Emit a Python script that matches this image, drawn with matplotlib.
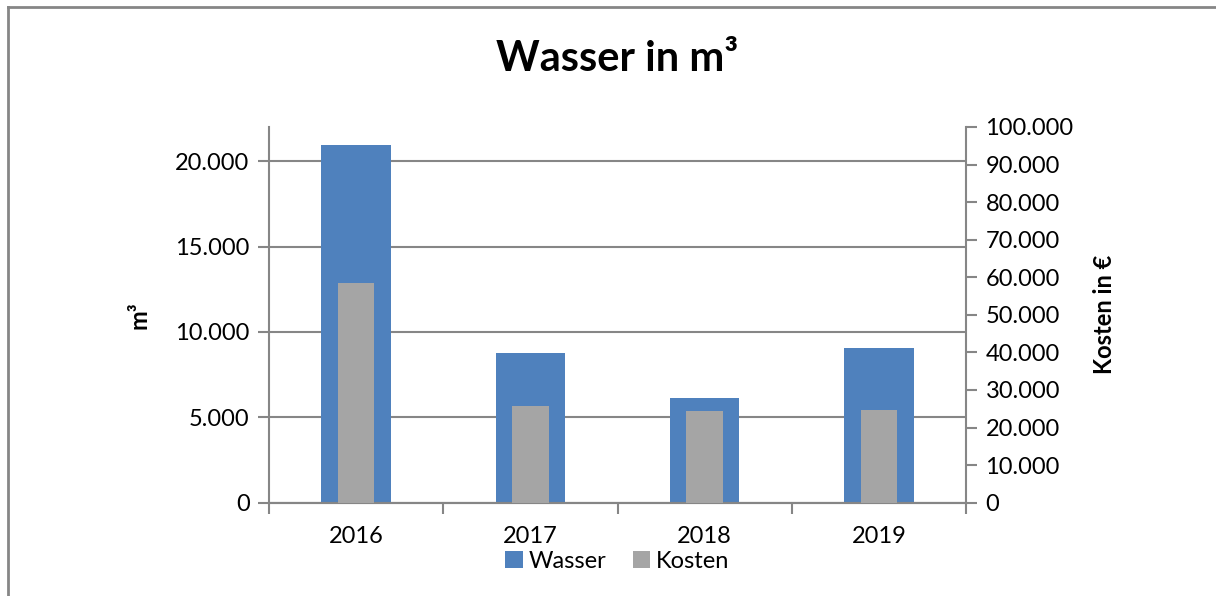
import matplotlib
matplotlib.use("Agg")
import matplotlib.pyplot as plt
from matplotlib.lines import Line2D
from matplotlib.ticker import FuncFormatter, FixedLocator
import numpy as np

plt.rcParams['font.family'] = ['Lato', 'DejaVu Sans']

years = ["2016", "2017", "2018", "2019"]
wasser = [20920, 8760, 6120, 9080]      # m³ (left axis)
kosten = [58600, 25700, 24300, 24800]   # € (right axis)

title = "Wasser in m³"
left_label = "m³"
right_label = "Kosten in €"

BLUE = "#4F81BD"
GRAY = "#A5A5A5"
AXC = "#868686"
FS = 17

def de_fmt(v, pos=None):
    return f"{int(round(v)):,}".replace(",", ".")

fig = plt.figure(figsize=(12.16, 5.96), dpi=100)
ax = fig.add_axes([269/1216, 1 - 502.7/596, (966-269)/1216, (502.7-127)/596])
ax2 = ax.twinx()

x = np.arange(len(years))
ax.bar(x, wasser, width=0.40, color=BLUE, zorder=2, label="Wasser")
ax2.bar(x, kosten, width=0.21, color=GRAY, zorder=3, label="Kosten")

ax.set_xlim(-0.5, 3.5)
ax.set_ylim(0, 22000)
ax2.set_ylim(0, 100000)

ax.set_yticks([0, 5000, 10000, 15000, 20000])
ax2.set_yticks(np.arange(0, 100001, 10000))
ax.yaxis.set_major_formatter(FuncFormatter(de_fmt))
ax2.yaxis.set_major_formatter(FuncFormatter(de_fmt))

ax.grid(axis='y', color=AXC, linewidth=1.5, zorder=0)
ax.set_axisbelow(True)

ax.xaxis.set_major_locator(FixedLocator([-0.5, 0.5, 1.5, 2.5, 3.5]))
ax.set_xticklabels([], minor=False)
ax.set_xticks(x, years, minor=True)
ax.tick_params(axis='x', which='minor', length=0, labelsize=FS, pad=17)
ax.tick_params(axis='x', which='major', length=8, color=AXC, width=1.5)
ax.tick_params(axis='y', length=8, color=AXC, width=1.5, labelsize=FS, pad=6)
ax2.tick_params(axis='y', length=8, color=AXC, width=1.5, labelsize=FS, pad=6)

for a in (ax, ax2):
    a.spines['top'].set_visible(False)
    for s in ('left', 'right', 'bottom'):
        a.spines[s].set_color(AXC)
        a.spines[s].set_linewidth(1.5)
ax2.spines['left'].set_visible(False)
ax.spines['right'].set_visible(False)

ax.set_ylabel(left_label, fontsize=FS, fontweight='bold', labelpad=18)
ax2.set_ylabel(right_label, fontsize=FS, fontweight='bold', labelpad=14)

fig.text(617/1216, 1 - 59/596, title, fontsize=30, fontweight='bold',
         ha='center', va='center')

h1, l1 = ax.get_legend_handles_labels()
h2, l2 = ax2.get_legend_handles_labels()
fig.legend(h1 + h2, l1 + l2, loc='center', bbox_to_anchor=(617.5/1216, 1 - 561/596),
           ncol=2, frameon=False, fontsize=FS, handlelength=0.75, handleheight=0.75,
           handletextpad=0.25, columnspacing=1.1, borderpad=0.1)

# outer frame (left and top edges visible)
fig.add_artist(Line2D([8/1216, 8/1216], [0, 1 - 7/596], color=AXC, linewidth=2,
                      transform=fig.transFigure))
fig.add_artist(Line2D([8/1216, 1], [1 - 7/596, 1 - 7/596], color=AXC, linewidth=2,
                      transform=fig.transFigure))

fig.savefig("out.png", dpi=100, facecolor='white')
